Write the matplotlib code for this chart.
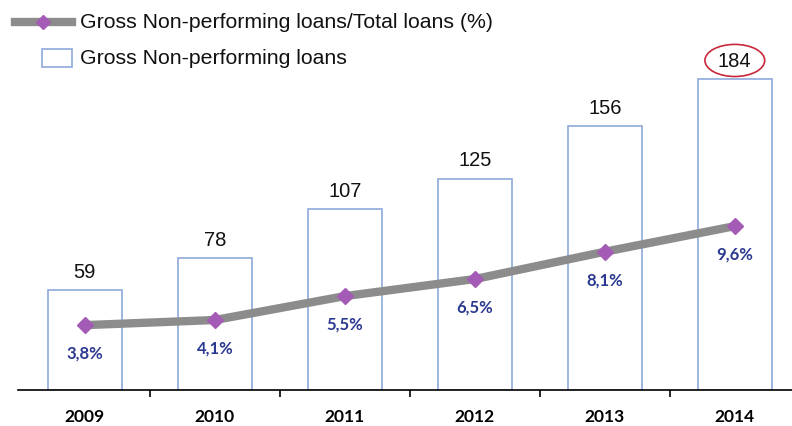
import matplotlib.pyplot as plt
from matplotlib.lines import Line2D
from matplotlib.patches import Rectangle, Ellipse

# data
tahun = ["2009", "2010", "2011", "2012", "2013", "2014"]
npl = [59, 78, 107, 125, 156, 184]
rasio = [3.8, 4.1, 5.5, 6.5, 8.1, 9.6]
label_rasio = ["3,8%", "4,1%", "5,5%", "6,5%", "8,1%", "9,6%"]

W, H = 792, 426
fig = plt.figure(figsize=(W / 100, H / 100), dpi=100)

ax_l, ax_b, ax_t = 18, 390, 40
ax = fig.add_axes([ax_l / W, (H - ax_b) / H, 1 - ax_l / W, (ax_b - ax_t) / H])
ax2 = ax.twinx()

x = list(range(len(tahun)))
ax.bar(x, npl, width=0.57, facecolor="white", edgecolor="#8EA9DB", linewidth=1.2, zorder=2)
for xi, v in zip(x, npl):
    ax.annotate(str(v), (xi, v), xytext=(0, 6), textcoords="offset points",
                ha="center", va="bottom", fontsize=14.5, family="Liberation Sans", color="#111111")

ax2.plot(x, rasio, color="#8C8C8C", linewidth=6, solid_capstyle="butt", zorder=3)
ax2.plot(x, rasio, linestyle="none", marker="D", markersize=8, color="#A35BB5", zorder=4)
for xi, v, lb in zip(x, rasio, label_rasio):
    ax2.annotate(lb, (xi, v), xytext=(0, -15), textcoords="offset points",
                 ha="center", va="top", fontsize=12, fontweight="bold",
                 family="Lato", color="#2B3990")

ax.set_xlim(-0.515, 5.44)
ax.set_ylim(0, (ax_b - ax_t) / 1.69)
ax2.set_ylim(0, (ax_b - ax_t) / 17.07)

for a in (ax, ax2):
    for s in ["top", "right", "left"]:
        a.spines[s].set_visible(False)
    a.set_yticks([])
ax.spines["bottom"].set_color("black")
ax.spines["bottom"].set_linewidth(1.2)
ax2.spines["bottom"].set_visible(False)

ax.set_xticks(x)
ax.set_xticklabels(tahun, fontsize=12.5, fontweight="bold", family="Lato")
ax.tick_params(axis="x", which="major", length=0, pad=14)
ax.set_xticks([i + 0.5 for i in range(len(tahun) - 1)], minor=True)
ax.tick_params(axis="x", which="minor", length=5, width=1.2, direction="out")

# lingkaran merah di 184
ax.add_patch(Ellipse((5, 195), 0.46, 19, fill=False, edgecolor="#C8283A", linewidth=1.2,
                     angle=0, clip_on=False, zorder=5))

# legenda manual
tf = fig.transFigure
fig.add_artist(Line2D([15 / W, 72 / W], [1 - 22 / H, 1 - 22 / H], color="#8C8C8C",
                      linewidth=6, transform=tf))
fig.add_artist(Line2D([43 / W], [1 - 22 / H], marker="D", markersize=7, color="#A35BB5",
                      transform=tf))
fig.add_artist(Rectangle((42 / W, 1 - 67 / H), 30 / W, 18 / H, facecolor="white",
                         edgecolor="#8EA9DB", linewidth=1.2, transform=tf))
fig.text(80 / W, 1 - 22 / H, "Gross Non-performing loans/Total loans (%)", fontsize=15.3,
         family="Liberation Sans", va="center", color="#111111")
fig.text(80 / W, 1 - 58 / H, "Gross Non-performing loans", fontsize=15.3,
         family="Liberation Sans", va="center", color="#111111")

fig.savefig("out.png", dpi=100)
